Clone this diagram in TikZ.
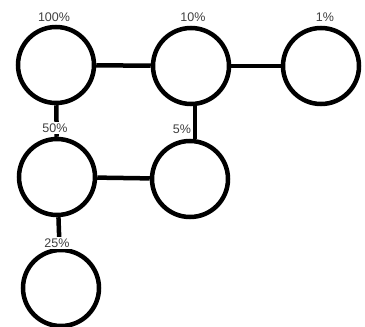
\documentclass[tikz,border=0pt]{standalone}
\usepackage{fontspec}
\setmainfont{Liberation Sans}
\begin{document}
\begin{tikzpicture}[x=1pt,y=-1pt,
  ring/.style={circle,draw=black,line width=4.5pt,minimum size=76pt,inner sep=0pt},
  link/.style={line width=4.5pt},
  pct/.style={font=\fontsize{12.5}{13}\selectfont,text=black!75,fill=white,inner sep=1.5pt}]
\useasboundingbox[fill=white] (0,0) rectangle (365,327);
\node[ring] (A) at (56,65) {};
\node[ring] (B) at (191,66) {};
\node[ring] (C) at (321,66) {};
\node[ring] (D) at (57,177) {};
\node[ring] (E) at (190,179) {};
\node[ring] (F) at (61,288) {};
\draw[link] (A) -- (B);
\draw[link] (B) -- (C);
\draw[link] (D) -- (E);
\draw[link] (A) -- (D);
\draw[link] (D) -- (F);
\draw[link] ([xshift=4pt]B.south) -- ([xshift=5pt]E.north);
\node[pct] (lA) at (54,17) {100\%};
\node[pct] (lB) at (193,17) {10\%};
\node[pct] (lC) at (325,17) {1\%};
\node[pct] (lD) at (55,128) {50\%};
\node[pct,fill=none] (lE) at (182,129) {5\%};
\node[pct] (lF) at (57,243) {25\%};
\end{tikzpicture}
\end{document}
